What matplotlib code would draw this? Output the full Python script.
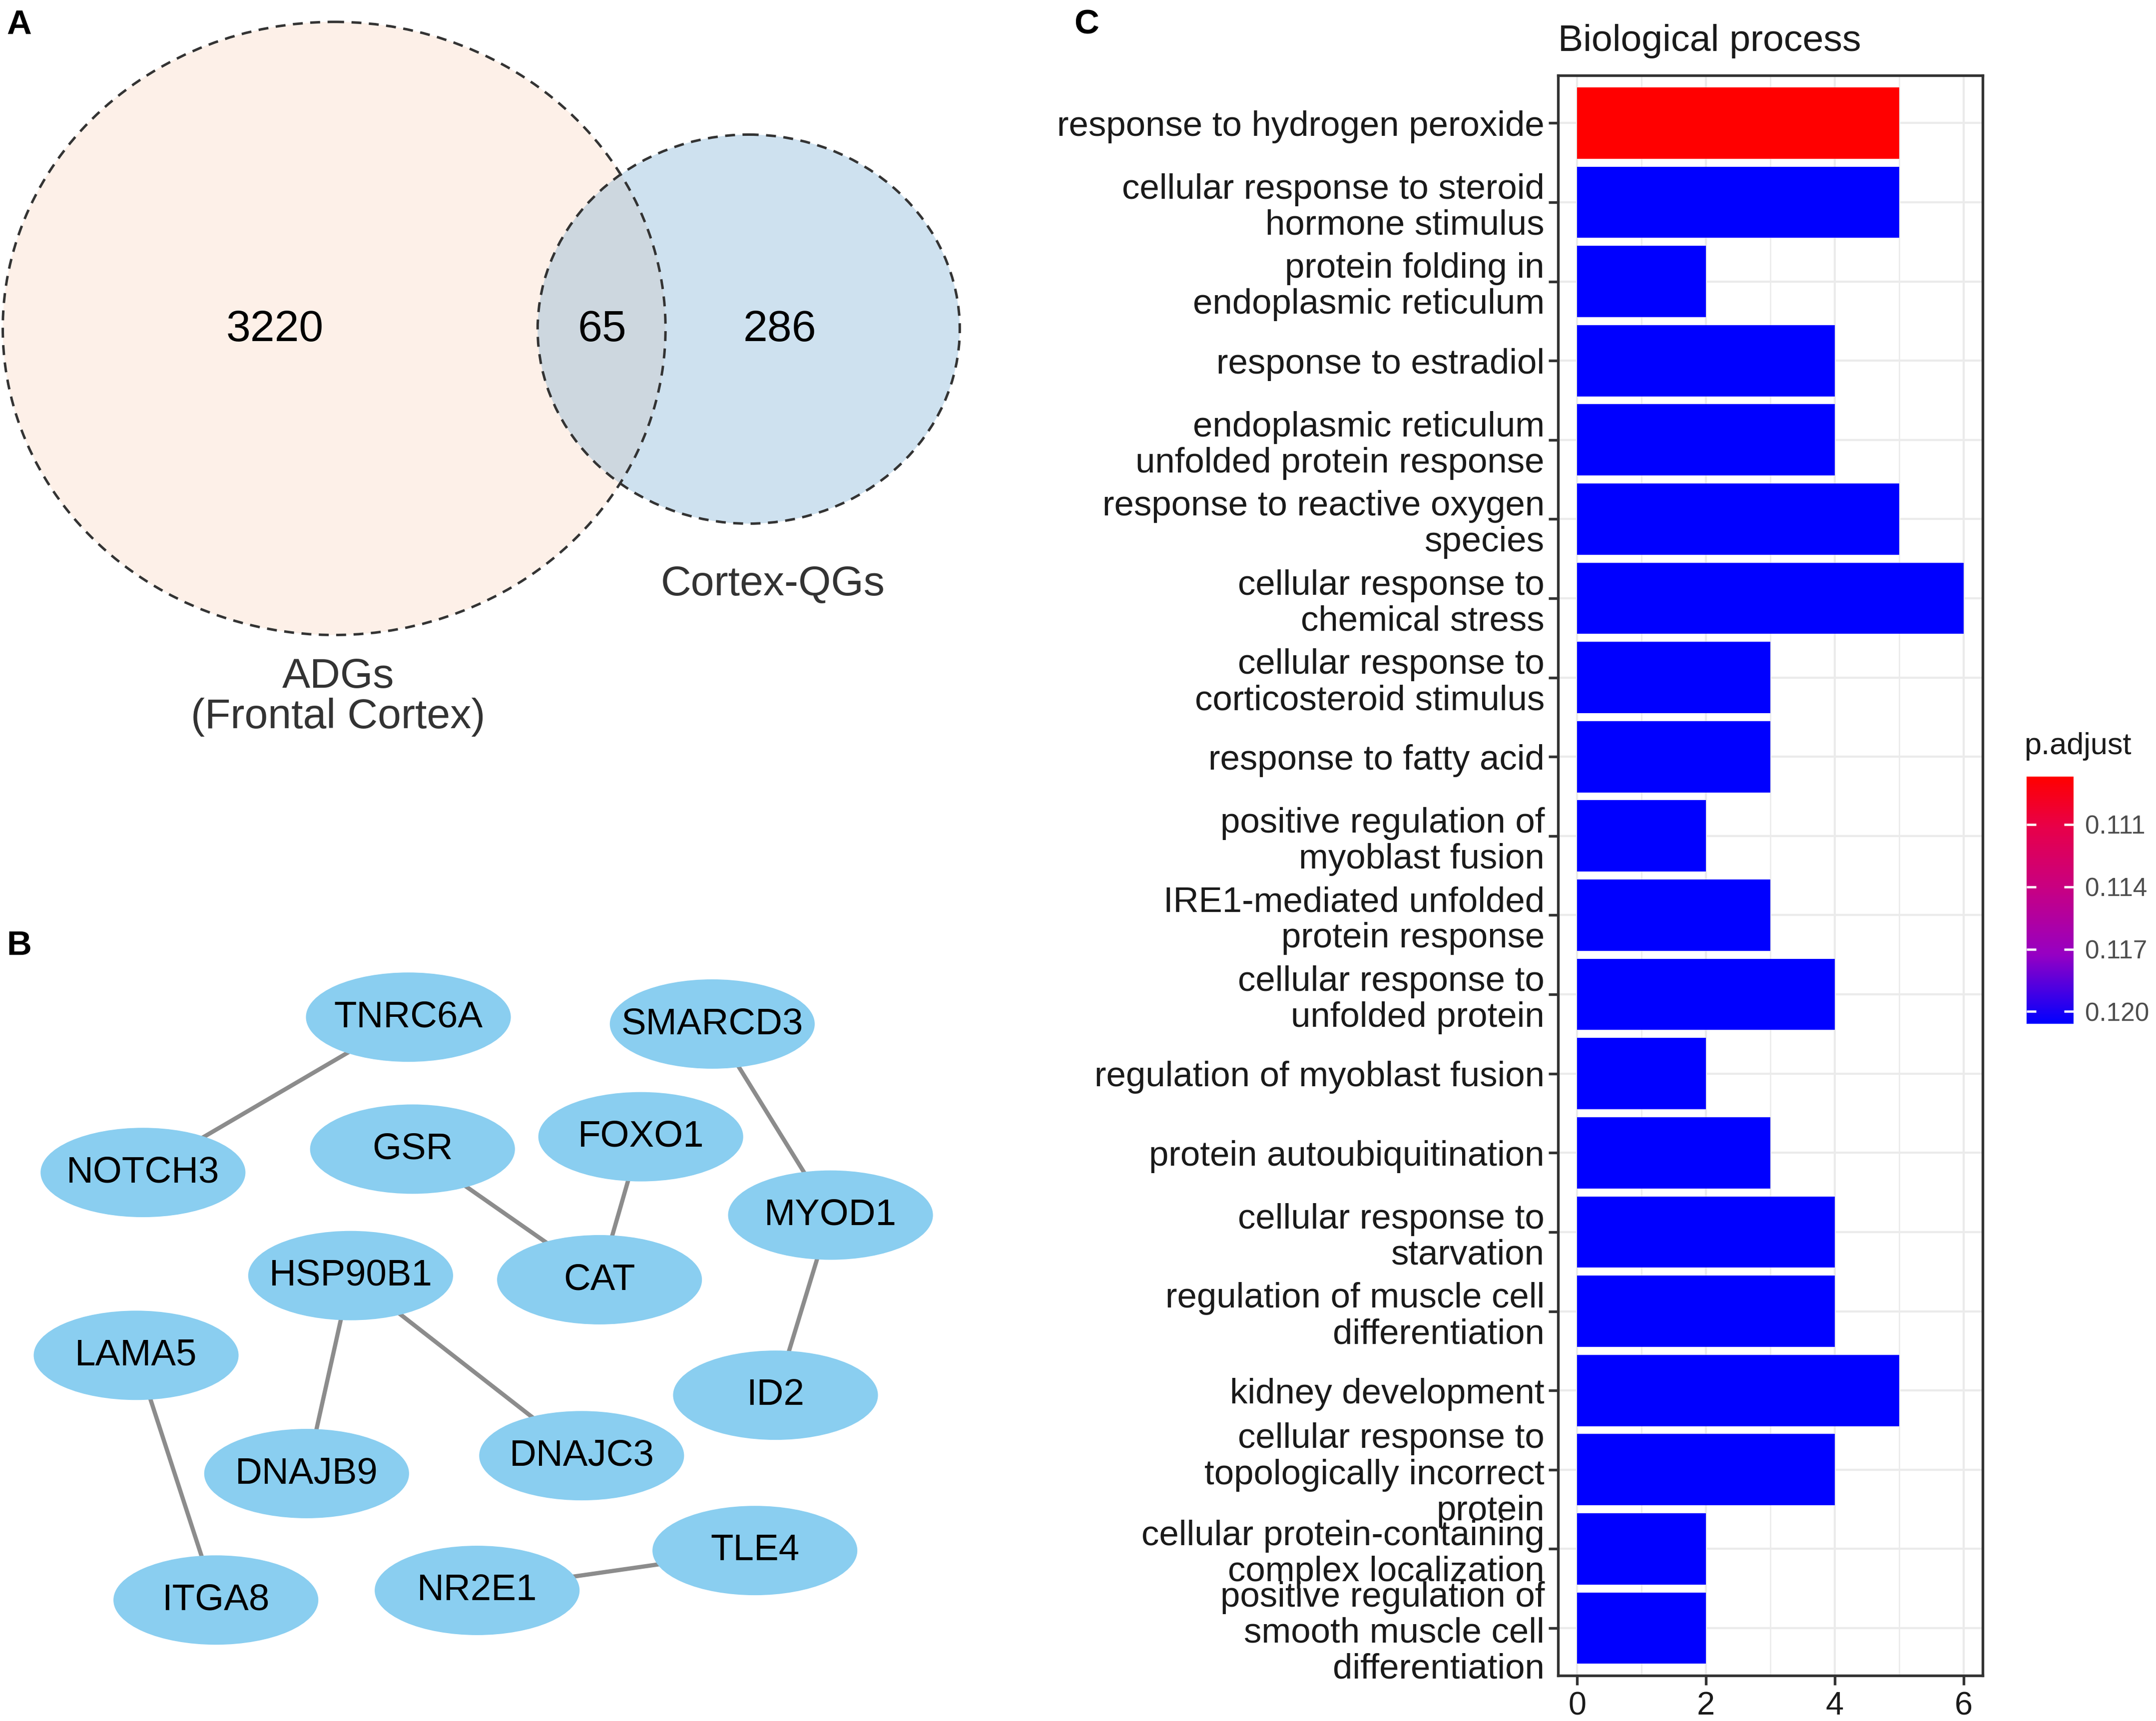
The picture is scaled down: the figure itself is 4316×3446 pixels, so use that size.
import numpy as np
import matplotlib
matplotlib.use("Agg")
import matplotlib.pyplot as plt
from matplotlib.patches import Ellipse
from matplotlib.colors import LinearSegmentedColormap, Normalize
from matplotlib.cm import ScalarMappable

plt.rcParams['font.family'] = ['Liberation Sans', 'DejaVu Sans']

# --- A : Venn counts ---
venn_counts = [3220, 65, 286]
venn_sets = ["ADGs\n(Frontal Cortex)", "Cortex-QGs"]

# --- B : PPI network (node positions in layout pixels) ---
genes = ["TNRC6A", "SMARCD3", "NOTCH3", "GSR", "FOXO1", "MYOD1", "HSP90B1", "CAT",
         "LAMA5", "ID2", "DNAJB9", "DNAJC3", "ITGA8", "NR2E1", "TLE4"]
gene_x = [297, 518, 104, 300, 466, 604, 255, 436, 99, 564, 223, 423, 157, 347, 549]
gene_y = [740, 745, 853, 836, 827, 884, 928, 931, 986, 1015, 1072, 1059, 1164, 1157, 1128]
links = [("TNRC6A", "NOTCH3"), ("SMARCD3", "MYOD1"), ("GSR", "CAT"), ("FOXO1", "CAT"),
         ("MYOD1", "ID2"), ("HSP90B1", "DNAJB9"), ("HSP90B1", "DNAJC3"),
         ("LAMA5", "ITGA8"), ("NR2E1", "TLE4")]

# --- C : GO enrichment ---
go_terms = [
    "response to hydrogen peroxide",
    "cellular response to steroid\nhormone stimulus",
    "protein folding in\nendoplasmic reticulum",
    "response to estradiol",
    "endoplasmic reticulum\nunfolded protein response",
    "response to reactive oxygen\nspecies",
    "cellular response to\nchemical stress",
    "cellular response to\ncorticosteroid stimulus",
    "response to fatty acid",
    "positive regulation of\nmyoblast fusion",
    "IRE1-mediated unfolded\nprotein response",
    "cellular response to\nunfolded protein",
    "regulation of myoblast fusion",
    "protein autoubiquitination",
    "cellular response to\nstarvation",
    "regulation of muscle cell\ndifferentiation",
    "kidney development",
    "cellular response to\ntopologically incorrect\nprotein",
    "cellular protein-containing\ncomplex localization",
    "positive regulation of\nsmooth muscle cell\ndifferentiation",
]
go_counts = [5, 5, 2, 4, 4, 5, 6, 3, 3, 2, 3, 4, 2, 3, 4, 4, 5, 4, 2, 2]
go_padj = [0.1087] + [0.1206] * 19
padj_ticks = [0.111, 0.114, 0.117, 0.120]

W, H = 1568, 1252
fig = plt.figure(figsize=(W / 100, H / 100), dpi=275.26)

# overlay axes for panels A and B
ax = fig.add_axes([0, 0, 1, 1])
ax.set_xlim(0, W)
ax.set_ylim(H, 0)
ax.axis('off')

# Venn
ax.add_patch(Ellipse((243, 239), 482, 446, facecolor='#FDF0E8', edgecolor='none', zorder=1))
ax.add_patch(Ellipse((544.5, 239.5), 307, 283, facecolor=(95 / 255, 158 / 255, 205 / 255),
                     alpha=0.3, edgecolor='none', zorder=2))
for c, w, h in [((243, 239), 482, 446), ((544.5, 239.5), 307, 283)]:
    ax.add_patch(Ellipse(c, w, h, fill=False, edgecolor='#333333', lw=1.3,
                         ls=(0, (4, 3)), zorder=3))
for val, px in zip(venn_counts, [200, 438, 567]):
    ax.text(px, 240, str(val), fontsize=23, ha='center', va='center', color='black', zorder=4)
ax.text(246, 507, venn_sets[0], fontsize=22, ha='center', va='center', color='#333333',
        linespacing=1.05)
ax.text(562, 425, venn_sets[1], fontsize=22, ha='center', va='center', color='#333333')

# network
pos = {g: (x, y) for g, x, y in zip(genes, gene_x, gene_y)}
for a, b in links:
    ax.plot([pos[a][0], pos[b][0]], [pos[a][1], pos[b][1]], color='#8C8C8C', lw=2.2, zorder=2)
for g in genes:
    ax.add_patch(Ellipse(pos[g], 149, 65, facecolor='#8ACEF0', edgecolor='none', zorder=3))
    ax.text(pos[g][0], pos[g][1], g, fontsize=19.5, ha='center', va='center', zorder=4)

# panel C
cmap = LinearSegmentedColormap.from_list(
    'padj', [(0, (1, 0, 0)), (0.2, (232 / 255, 0, 72 / 255)), (0.45, (200 / 255, 0, 130 / 255)),
             (0.72, (150 / 255, 0, 195 / 255)), (1, (0, 0, 1))])
norm = Normalize(min(go_padj), max(go_padj))

axc = fig.add_axes([1133 / W, 1 - 1219 / H, (1442 - 1133) / W, (1219 - 55) / H])
ypos = np.arange(len(go_terms), 0, -1)
axc.barh(ypos, go_counts, height=0.9, color=cmap(norm(go_padj)), zorder=2)
axc.set_xlim(-0.3, 6.3)
axc.set_ylim(0.4, len(go_terms) + 0.6)
axc.set_yticks(ypos)
axc.set_yticklabels(go_terms, fontsize=18.5, linespacing=1.12, color='#1A1A1A')
axc.set_xticks([0, 2, 4, 6])
axc.set_xticks([1, 3, 5], minor=True)
axc.set_xticklabels(['0', '2', '4', '6'], fontsize=17, color='#1A1A1A')
axc.grid(which='major', color='#EBEBEB', lw=1.1, zorder=0)
axc.grid(which='minor', axis='x', color='#EBEBEB', lw=0.7, zorder=0)
axc.set_axisbelow(True)
axc.tick_params(axis='y', length=5, width=1.4, color='#333333', pad=2)
axc.tick_params(axis='x', which='major', length=5, width=1.4, color='#333333', pad=3)
axc.tick_params(axis='x', which='minor', length=0)
for s in axc.spines.values():
    s.set_linewidth(1.4)
    s.set_color('#333333')
fig.text(1133 / W, 1 - 30 / H, "Biological process", fontsize=19.7, va='center', ha='left',
         color='#1A1A1A')

# colorbar
cax = fig.add_axes([1474 / W, 1 - 745 / H, 34 / W, 180 / H])
cb = fig.colorbar(ScalarMappable(norm=norm, cmap=cmap), cax=cax)
cax.invert_yaxis()
cb.set_ticks(padj_ticks)
cb.set_ticklabels(['%.3f' % t for t in padj_ticks])
cb.outline.set_visible(False)
cax.tick_params(direction='in', color='white', labelcolor='#4D4D4D', length=5, width=1.2,
                left=True, right=True, labelleft=False, labelright=True, labelsize=13.4, pad=6)
fig.text(1472 / W, 1 - 543 / H, "p.adjust", fontsize=16, va='center', ha='left', color='#1A1A1A')

# panel letters
for lab, px, py in [("A", 14, 18), ("B", 14, 688), ("C", 790, 18)]:
    fig.text(px / W, 1 - py / H, lab, fontsize=18, fontweight='bold', ha='center', va='center')

fig.savefig("out.png", dpi=275.26)
